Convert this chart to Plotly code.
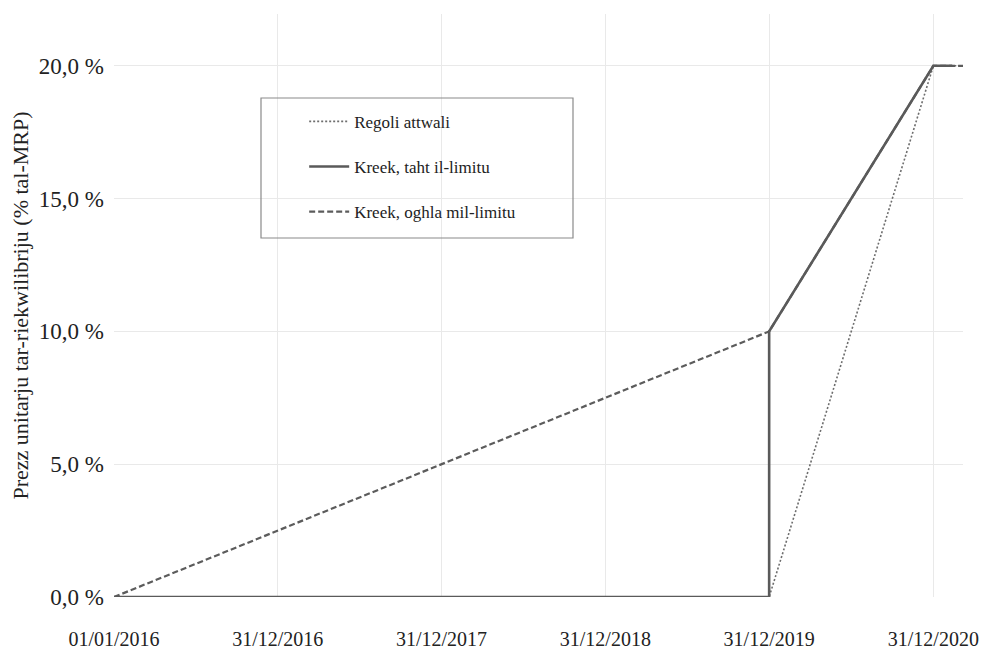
import plotly.graph_objects as go

# Tick positions / labels
tick_dates = ["2016-01-01", "2016-12-31", "2017-12-31", "2018-12-31", "2019-12-31", "2020-12-31"]
tick_labels = ["01/01/2016", "31/12/2016", "31/12/2017", "31/12/2018", "31/12/2019", "31/12/2020"]
y_ticks = [0, 5, 10, 15, 20]
y_tick_labels = ["0,0 %", "5,0 %", "10,0 %", "15,0 %", "20,0 %"]

# Series
regoli_x = ["2016-01-01", "2019-12-31", "2020-12-31", "2021-03-07"]
regoli_y = [0, 0, 20, 20]

taht_x = ["2016-01-01", "2019-12-31", "2019-12-31", "2020-12-31", "2021-02-11"]
taht_y = [0, 0, 10, 20, 20]

oghla_x = ["2016-01-01", "2019-12-31", "2020-12-31", "2021-03-07"]
oghla_y = [0, 10, 20, 20]

names = ["Regoli attwali", "Kreek, taht il-limitu", "Kreek, oghla mil-limitu"]

FONT = "Liberation Serif"

fig = go.Figure()
fig.add_trace(go.Scatter(x=regoli_x, y=regoli_y, mode="lines", name=names[0],
                         line=dict(color="#6e6e6e", width=1.6, dash="2px,2px"),
                         legendrank=1, legendgroup="a"))
fig.add_trace(go.Scatter(x=oghla_x, y=oghla_y, mode="lines", name=names[2],
                         line=dict(color="#5c5c5c", width=2.2, dash="6px,3px"),
                         legendrank=3, legendgroup="c"))
fig.add_trace(go.Scatter(x=taht_x, y=taht_y, mode="lines", name=names[1],
                         line=dict(color="#5a5a5a", width=2.6),
                         legendrank=2, legendgroup="b"))

# page body has an 8px margin, so the figure is 992x644 placed at (8, 8)
fig.update_layout(
    width=992, height=644,
    margin=dict(l=106, r=37, t=6, b=55),
    plot_bgcolor="white", paper_bgcolor="white",
    font=dict(family=FONT, color="#222", size=20),
    showlegend=True,
    legend=dict(x=0.224, y=0.846, xanchor="left", yanchor="top",
                bgcolor="rgba(0,0,0,0)", borderwidth=0,
                font=dict(size=17, family=FONT, color="#222"),
                tracegroupgap=20, itemwidth=40),
    shapes=[dict(type="rect", xref="paper", yref="paper",
                 x0=(261 - 114) / 849, x1=(573 - 114) / 849,
                 y0=(597 - 238) / 583, y1=(597 - 98) / 583,
                 line=dict(color="#8a8a8a", width=1.2), fillcolor="rgba(0,0,0,0)",
                 layer="above")],
)
fig.update_xaxes(type="date", range=["2016-01-01", "2021-03-07"],
                 tickvals=tick_dates, ticktext=tick_labels, automargin=False,
                 showgrid=True, gridcolor="#e9e9e9", gridwidth=1,
                 zeroline=False, showline=False, ticks="",
                 ticklabelstandoff=28, tickfont=dict(size=20, family=FONT))
fig.update_yaxes(range=[0, 21.95], tickvals=y_ticks, ticktext=y_tick_labels,
                 automargin=False,
                 showgrid=True, gridcolor="#e9e9e9", gridwidth=1,
                 zeroline=False, showline=False, ticks="",
                 ticklabelstandoff=9, tickfont=dict(size=23, family=FONT),
                 title=dict(text="Prezz unitarju tar-riekwilibriju (% tal-MRP)",
                            font=dict(size=22, family=FONT), standoff=8))

fig.write_html("out.html")
